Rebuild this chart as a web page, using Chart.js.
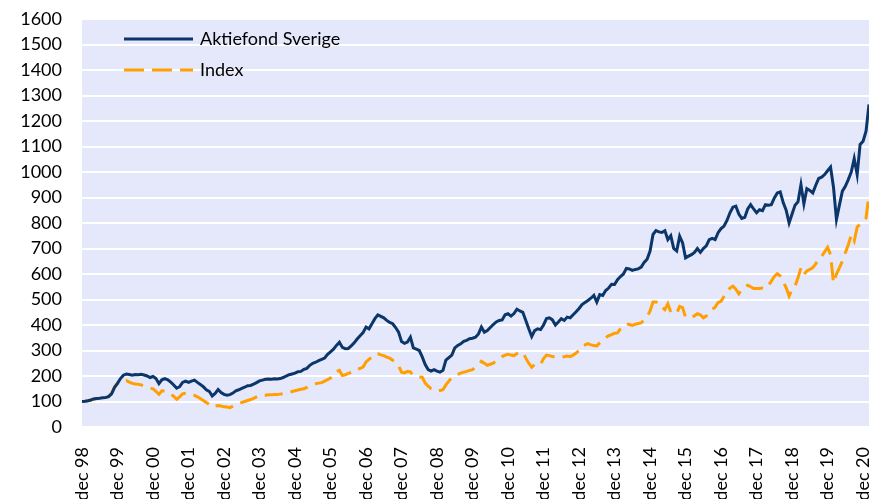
<!DOCTYPE html>
<html>
<head>
<meta charset="utf-8">
<script src="https://cdn.jsdelivr.net/npm/chart.js@4/dist/chart.umd.min.js"></script>
<style>
  html, body { margin: 0; padding: 0; background: #fff; }
  canvas { display: block; }
</style>
</head>
<body>
<canvas id="chart" width="869" height="499"></canvas>
<script>
// month-end values, dec 98 .. feb 21 (index 100 at start)
const fundValues = [
  100,101,103,106,110,112,113,115,116,119,
  130,155,171,190,203,208,206,203,206,205,
  207,204,200,194,198,190,170,185,190,185,
  176,165,152,158,175,180,175,180,184,175,
  167,158,146,140,122,132,147,135,128,125,
  127,133,142,146,151,156,162,163,168,174,
  181,184,187,188,187,189,188,190,194,200,
  205,208,211,217,218,226,230,242,250,254,
  260,265,270,285,295,305,320,332,312,307,
  308,318,330,345,358,370,392,385,405,425,
  440,434,428,418,410,405,390,372,335,328,
  333,352,310,305,300,275,245,225,219,225,
  219,215,222,262,272,282,310,320,326,336,
  340,346,348,352,365,392,372,378,390,402,
  412,418,420,440,444,435,445,462,455,450,
  418,385,355,378,385,382,400,425,428,420,
  400,412,425,418,431,428,440,452,465,480,
  488,496,505,516,490,519,516,535,545,560,
  559,578,590,600,622,620,614,618,620,627,
  645,658,690,755,770,765,763,770,735,750,
  700,690,748,722,663,670,676,685,700,685,
  700,710,735,740,735,762,778,788,810,840,
  862,866,835,818,822,855,872,855,840,852,
  848,872,870,872,898,918,922,880,850,800,
  835,870,883,950,875,935,928,918,948,975,
  980,990,1005,1019,940,814,870,925,944,970,
  1000,1053,990,1108,1121,1160,1265
];

const indexValues = [
  100,101,103,106,110,112,113,115,117,120,
  132,158,171,175,178,182,176,171,169,168,
  165,162,158,153,150,140,128,142,141,138,
  130,120,109,118,130,132,128,125,124,118,
  112,104,96,89,78,82,84,82,79,78,
  76,82,89,93,96,100,104,108,112,118,
  124,125,125,126,126,127,127,129,131,134,
  136,139,142,145,148,150,155,162,166,170,
  172,174,180,186,192,205,218,222,202,205,
  210,214,215,225,230,235,255,265,275,287,
  287,283,280,274,270,262,250,240,215,212,
  218,216,202,200,196,195,172,160,150,145,
  140,143,146,165,180,195,202,206,211,215,
  218,222,225,235,242,258,250,242,246,250,
  260,268,276,282,285,282,280,288,292,293,
  270,250,234,245,250,246,268,282,280,276,
  275,274,273,276,278,276,282,290,300,317,
  322,327,322,320,318,330,340,350,358,362,
  368,369,385,395,405,402,398,403,406,408,
  420,432,455,490,490,488,470,460,483,451,
  450,446,473,468,430,430,431,436,444,440,
  428,435,450,462,470,488,493,513,530,545,
  552,540,522,539,548,556,550,543,543,543,
  545,543,555,572,590,601,592,570,546,513,
  540,552,585,624,598,612,618,625,640,660,
  670,687,705,676,565,600,624,650,683,715,
  752,729,784,795,807,820,912
];

const seriesNames = ['Aktiefond Sverige', 'Index'];
const monthNames = ['jan','feb','mar','apr','maj','jun','jul','aug','sep','okt','nov','dec'];

// category labels: one per month starting dec 98
const categories = [];
for (let i = 0; i < fundValues.length; i++) {
  const m = (11 + i) % 12;
  const y = (1998 + Math.floor((11 + i) / 12)) % 100;
  categories.push(monthNames[m] + ' ' + String(y).padStart(2, '0'));
}

const NAVY = '#0B3669';
const ORANGE = '#FF9F00';
const FONT = { family: 'Lato, "Open Sans", sans-serif', size: 18 };

const plotBg = {
  id: 'plotBg',
  beforeDraw(chart) {
    const { ctx, chartArea: a } = chart;
    ctx.save();
    ctx.fillStyle = '#E5E7FB';
    ctx.fillRect(a.left, a.top, a.right - a.left, a.bottom - a.top);
    ctx.restore();
  }
};

// legend drawn inside the plot area, top left
const innerLegend = {
  id: 'innerLegend',
  afterDraw(chart) {
    const ctx = chart.ctx;
    const rows = [
      { y: 39, color: NAVY, dash: [] },
      { y: 70, color: ORANGE, dash: [20, 8] }
    ];
    ctx.save();
    rows.forEach((r, i) => {
      ctx.beginPath();
      ctx.setLineDash(r.dash);
      ctx.strokeStyle = r.color;
      ctx.lineWidth = 3;
      ctx.moveTo(124, r.y);
      ctx.lineTo(193, r.y);
      ctx.stroke();
      ctx.setLineDash([]);
      ctx.fillStyle = '#000';
      ctx.font = FONT.size + 'px ' + FONT.family;
      ctx.textBaseline = 'middle';
      ctx.fillText(seriesNames[i], 200, r.y);
    });
    ctx.restore();
  }
};

new Chart(document.getElementById('chart').getContext('2d'), {
  type: 'line',
  data: {
    labels: categories,
    datasets: [
      {
        label: seriesNames[0],
        data: fundValues,
        borderColor: NAVY,
        borderWidth: 3,
        pointRadius: 0,
        tension: 0,
        fill: false
      },
      {
        label: seriesNames[1],
        data: indexValues,
        borderColor: ORANGE,
        borderWidth: 3,
        borderDash: [18, 8],
        pointRadius: 0,
        tension: 0,
        fill: false
      }
    ]
  },
  options: {
    responsive: false,
    animation: false,
    devicePixelRatio: 1,
    layout: { padding: { top: 19, left: 0, right: 0, bottom: 0 } },
    plugins: {
      legend: { display: false },
      tooltip: { enabled: false }
    },
    scales: {
      x: {
        type: 'category',
        offset: false,
        grid: { display: false },
        border: { display: false },
        ticks: {
          autoSkip: false,
          maxRotation: 90,
          minRotation: 90,
          padding: 12,
          color: '#000',
          font: FONT,
          callback(v, i) {
            return i % 12 === 0 ? this.getLabelForValue(v) : null;
          }
        },
        afterFit(s) {
          s.height = 72;
          s.paddingLeft = 0;
          s.paddingRight = 0;
        }
      },
      y: {
        min: 0,
        max: 1600,
        grid: { color: '#FFFFFF', lineWidth: 2, drawTicks: false },
        border: { display: false },
        ticks: {
          stepSize: 100,
          padding: 20,
          color: '#000',
          font: FONT,
          callback: v => String(v)
        },
        afterFit(s) {
          s.width = 82;
          s.paddingTop = 0;
          s.paddingBottom = 0;
        }
      }
    }
  },
  plugins: [plotBg, innerLegend]
});
</script>
</body>
</html>
